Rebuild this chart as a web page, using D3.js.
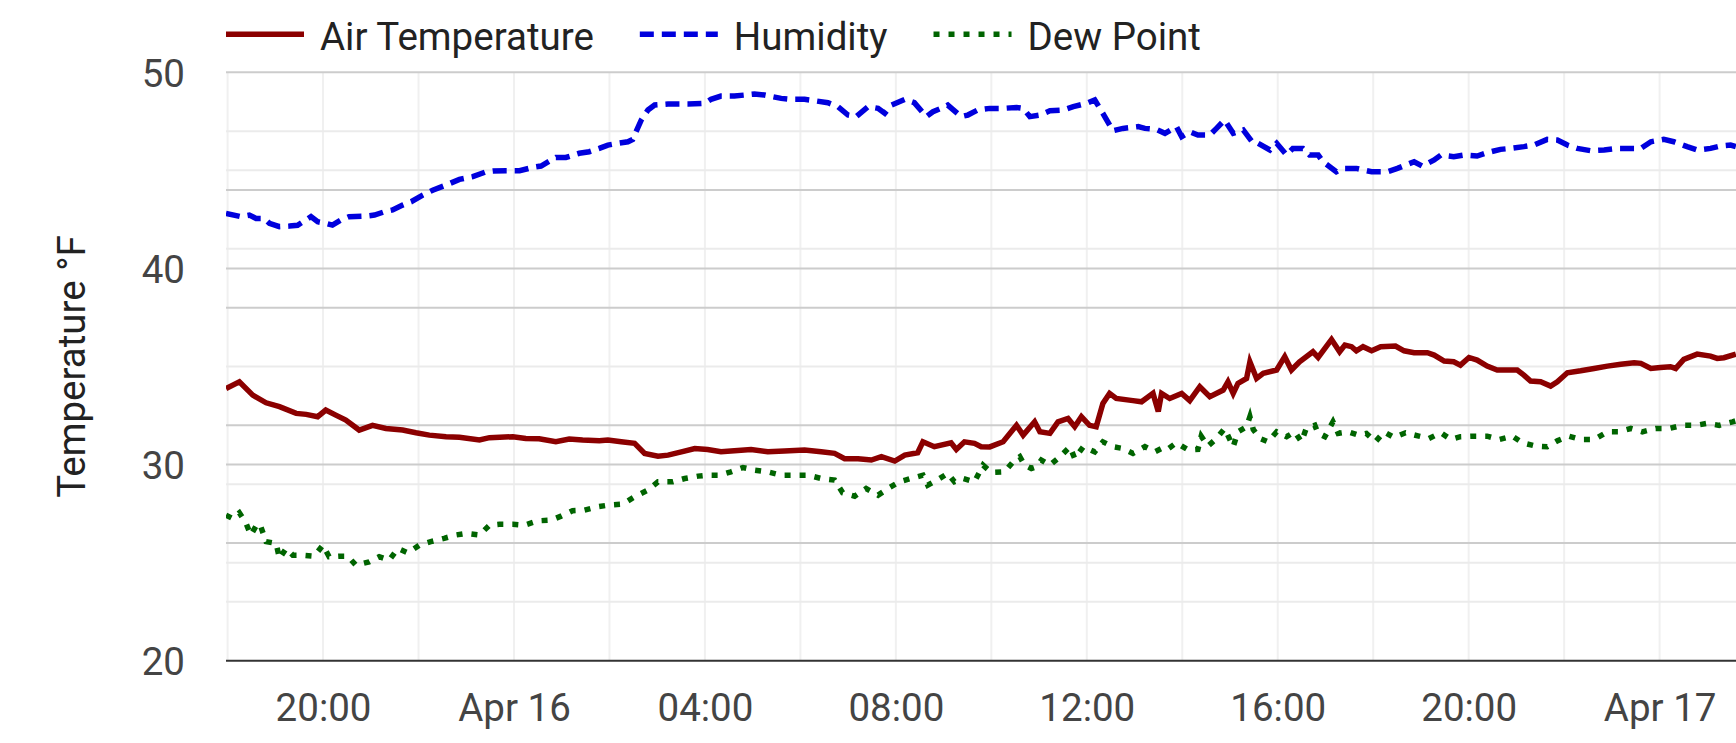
<!DOCTYPE html>
<html>
<head>
<meta charset="utf-8">
<script src="https://cdnjs.cloudflare.com/ajax/libs/d3/7.8.5/d3.min.js"></script>
<style>
  body { margin: 0; background: #fff; }
  text { font-family: Roboto, "Noto Sans", sans-serif; }
</style>
</head>
<body>
<script>
// hours after the first reading (Apr 15, 17:58) and the reading at that time
var tempHours = [0,0.28,0.56,0.84,1.12,1.47,1.68,1.92,2.09,2.30,2.51,2.79,3.07,3.35,3.70,3.98,4.26,4.61,4.89,5.31,5.52,6.01,6.28,6.56,6.91,7.19,7.47,7.82,
  8.0,8.28,8.56,8.77,9.05,9.26,9.54,9.82,10.09,10.37,10.65,11.0,11.35,11.7,12.12,12.47,12.75,12.96,13.24,13.52,13.73,14.01,14.22,14.49,14.6,14.84,15.19,15.3,15.47,15.68,15.82,
  16.0,16.28,16.56,16.7,16.94,17.05,17.26,17.43,17.64,17.78,17.92,18.09,18.23,18.37,18.51,18.65,19.0,19.18,19.42,19.53,19.6,19.77,20.02,20.19,20.4,20.61,20.89,20.99,21.1,21.2,21.38,21.45,21.59,21.73,22.01,22.18,22.32,22.49,22.77,22.88,23.16,23.33,23.44,23.58,23.68,23.82,24.0,
  24.19,24.5,24.68,24.89,25.17,25.31,25.52,25.72,25.86,26.04,26.21,26.42,26.63,27.05,27.19,27.33,27.54,27.75,27.89,28.1,28.38,28.66,28.94,29.22,29.5,29.64,29.85,30.05,30.26,30.37,30.54,30.82,31.1,31.24,31.38,31.63];
var tempValues = [33.88,34.22,33.54,33.15,32.95,32.61,32.56,32.44,32.78,32.52,32.27,31.76,32.0,31.84,31.76,31.62,31.5,31.42,31.39,31.25,31.37,31.42,31.33,31.32,31.16,31.3,31.25,31.21,
  31.25,31.16,31.08,30.57,30.43,30.48,30.65,30.82,30.77,30.65,30.7,30.77,30.65,30.69,30.74,30.65,30.57,30.3,30.3,30.23,30.4,30.18,30.48,30.6,31.16,30.91,31.11,30.77,31.16,31.08,30.91,
  30.9,31.16,32.0,31.5,32.18,31.67,31.59,32.18,32.35,31.93,32.44,32.0,31.93,33.12,33.63,33.37,33.26,33.2,33.63,32.7,33.63,33.37,33.63,33.26,33.97,33.46,33.8,34.22,33.63,34.14,34.39,35.24,34.39,34.65,34.82,35.5,34.82,35.24,35.75,35.46,36.38,35.75,36.09,36.01,35.8,36.01,35.8,
  36.01,36.04,35.8,35.7,35.7,35.58,35.28,35.24,35.07,35.46,35.33,35.02,34.82,34.82,34.56,34.26,34.22,34.0,34.22,34.68,34.78,34.9,35.02,35.11,35.19,35.16,34.9,34.95,34.99,34.9,35.36,35.63,35.53,35.41,35.45,35.63];

var humidHours = [0,0.31,0.49,0.63,0.8,0.91,1.12,1.33,1.5,1.78,1.92,2.09,2.23,2.41,2.58,2.93,3.11,3.32,3.49,3.7,3.88,4.12,4.33,4.61,4.89,5.17,5.45,5.59,5.87,6.15,6.42,6.6,6.91,7.12,7.4,7.61,7.82,8.0,
  8.21,8.42,8.52,8.7,8.84,8.98,9.26,9.68,10.03,10.16,10.37,10.65,11.07,11.28,11.63,11.84,12.12,12.33,12.61,12.82,13.03,13.2,13.45,13.66,13.8,13.94,14.22,14.42,14.67,14.81,14.98,15.12,15.4,15.54,15.75,16.0,
  16.28,16.56,16.7,16.84,17.05,17.26,17.54,17.75,18.03,18.2,18.37,18.58,18.79,19.11,19.25,19.49,19.67,19.91,20.02,20.19,20.36,20.61,20.75,20.92,21.1,21.31,21.52,21.62,21.87,22.01,22.22,22.35,22.56,22.7,22.88,22.98,23.26,23.4,23.68,23.82,24.0,
  24.33,24.54,24.89,25.06,25.31,25.45,25.72,25.93,26.21,26.42,26.7,26.91,27.19,27.4,27.68,27.89,28.1,28.31,28.59,28.87,29.15,29.36,29.64,29.85,30.12,30.33,30.61,30.82,31.1,31.31,31.52,31.63];
var humidValues = [42.81,42.64,42.72,42.55,42.55,42.3,42.13,42.16,42.2,42.64,42.38,42.3,42.21,42.47,42.64,42.67,42.72,42.89,42.98,43.23,43.4,43.74,43.99,44.25,44.54,44.68,44.93,44.97,44.98,44.98,45.15,45.22,45.66,45.66,45.87,45.95,46.12,46.29,
  46.38,46.46,46.58,47.57,48.08,48.33,48.38,48.38,48.42,48.62,48.79,48.79,48.89,48.84,48.67,48.62,48.62,48.55,48.45,48.25,47.82,47.74,48.25,48.16,47.91,48.33,48.62,48.45,47.74,47.99,48.16,48.33,47.74,47.82,48.08,48.16,
  48.16,48.21,48.16,47.74,47.82,48.04,48.08,48.25,48.42,48.59,47.91,47.02,47.14,47.23,47.14,47.09,46.89,47.23,46.72,46.97,46.8,46.8,47.14,47.57,46.89,47.06,46.38,46.38,46.04,46.38,45.78,46.12,46.12,45.78,45.78,45.44,44.93,45.1,45.1,45.02,44.93,
  44.93,45.1,45.44,45.22,45.53,45.78,45.7,45.78,45.73,45.9,46.07,46.12,46.21,46.29,46.58,46.55,46.29,46.12,46.0,46.04,46.12,46.12,46.12,46.46,46.58,46.46,46.21,46.04,46.12,46.24,46.29,46.21];

var dewHours = [0,0.14,0.28,0.42,0.52,0.66,0.73,0.84,1.05,1.12,1.26,1.4,1.61,1.85,2.03,2.16,2.37,2.55,2.72,3.0,3.21,3.42,3.6,3.81,4.05,4.29,4.57,4.82,5.03,5.31,5.52,5.73,6.01,6.25,6.53,6.81,7.02,7.26,7.51,7.79,8.0,
  8.31,8.56,8.84,9.05,9.36,9.61,9.89,10.09,10.34,10.58,10.83,11.07,11.35,11.63,11.91,12.19,12.47,12.75,12.92,13.17,13.41,13.66,13.87,14.11,14.35,14.6,14.7,14.95,15.12,15.26,15.44,15.68,15.86,16.03,
  16.31,16.52,16.63,16.73,16.87,16.98,17.08,17.26,17.47,17.68,17.78,17.96,18.2,18.37,18.58,18.79,19.0,19.25,19.46,19.6,19.7,19.91,20.16,20.36,20.43,20.57,20.75,20.92,21.1,21.2,21.38,21.45,21.52,21.66,21.83,22.01,22.22,22.39,22.53,22.63,22.81,22.88,23.02,23.19,23.3,23.51,23.72,23.89,
  24.08,24.26,24.47,24.71,24.99,25.2,25.45,25.66,25.86,26.18,26.42,26.67,26.95,27.16,27.44,27.68,27.89,28.13,28.38,28.66,28.94,29.18,29.43,29.67,29.95,30.23,30.51,30.79,31.03,31.28,31.56,31.63];
var dewValues = [27.42,27.25,27.54,27.0,26.41,27.0,26.83,26.07,25.98,25.21,25.72,25.38,25.38,25.33,25.89,25.3,25.33,25.33,24.87,25.04,25.3,25.13,25.72,25.5,25.89,26.07,26.24,26.41,26.49,26.41,26.91,26.96,26.96,26.91,27.13,27.17,27.37,27.65,27.68,27.85,27.93,
  27.98,28.36,28.7,29.12,29.12,29.29,29.41,29.46,29.46,29.63,29.85,29.72,29.63,29.46,29.46,29.46,29.29,29.21,28.56,28.39,28.78,28.44,28.78,29.12,29.29,29.46,28.95,29.29,29.55,29.12,29.29,29.12,29.97,29.6,
  29.63,30.23,30.4,29.97,29.8,29.89,30.23,29.97,30.4,30.91,30.31,30.91,30.65,31.16,30.91,30.82,30.57,30.91,30.65,30.82,30.74,31.11,30.74,30.77,31.45,30.94,31.33,31.84,30.91,31.67,31.93,32.44,31.79,31.33,31.16,31.67,31.42,31.67,31.16,31.84,32.0,31.59,31.42,32.18,31.59,31.67,31.5,31.59,
  31.16,31.67,31.38,31.62,31.45,31.33,31.62,31.28,31.42,31.45,31.45,31.28,31.45,31.11,30.94,30.91,31.21,31.45,31.28,31.28,31.67,31.67,31.84,31.67,31.84,31.84,32.0,32.0,32.1,32.0,32.18,32.23];

var seriesNames = ["Air Temperature", "Humidity", "Dew Point"];
var seriesColors = ["#8b0000", "#0000dd", "#006400"];
var seriesDash = [null, "14,8", "6,9"];

var yTicks = [20, 30, 40, 50];
var majorGrid = [26, 30, 32, 38, 40, 44, 50];
var minorGrid = [23, 25, 29, 35, 41, 45, 47];

var screenW = 1736, screenH = 743;
var plotLeft = 226, plotRight = 1736, plotTop = 72.3, plotBottom = 660.7;

var seriesStart = new Date(2021, 3, 15, 17, 58);
var seriesEnd = d3.timeMinute.offset(seriesStart, Math.round(31.63 * 60));
var atHour = function(h){ return new Date(seriesStart.getTime() + h * 3600000); };

var svg = d3.select("body").append("svg")
                .attr("width", screenW)
                .attr("height", screenH);

var x = d3.scaleTime().domain([seriesStart, seriesEnd]).range([plotLeft, plotRight]);
var y = d3.scaleLinear().domain([20, 50]).range([plotBottom, plotTop]);

var defs = svg.append("defs");
defs.append("clipPath").attr("id", "plotClip")
      .append("rect")
      .attr("x", plotLeft).attr("y", 0)
      .attr("width", plotRight - plotLeft).attr("height", screenH);

var gridGroup = svg.append("g").attr("class", "gridGroup");

// vertical gridlines every two hours
gridGroup.selectAll("line.vgrid")
      .data(x.ticks(d3.timeHour.every(2)))
      .enter().append("line")
      .attr("class", "vgrid")
      .attr("x1", function(d){ return x(d); })
      .attr("x2", function(d){ return x(d); })
      .attr("y1", plotTop).attr("y2", plotBottom)
      .style("stroke", "#f0f0f0")
      .style("stroke-width", 2);

gridGroup.selectAll("line.minor")
      .data(minorGrid)
      .enter().append("line")
      .attr("class", "minor")
      .attr("x1", plotLeft).attr("x2", plotRight)
      .attr("y1", function(d){ return y(d); })
      .attr("y2", function(d){ return y(d); })
      .style("stroke", "#ebebeb")
      .style("stroke-width", 2);

gridGroup.selectAll("line.major")
      .data(majorGrid)
      .enter().append("line")
      .attr("class", "major")
      .attr("x1", plotLeft).attr("x2", plotRight)
      .attr("y1", function(d){ return y(d); })
      .attr("y2", function(d){ return y(d); })
      .style("stroke", "#cccccc")
      .style("stroke-width", 2);

// baseline
svg.append("line")
      .attr("x1", plotLeft).attr("x2", plotRight)
      .attr("y1", y(20)).attr("y2", y(20))
      .style("stroke", "#333")
      .style("stroke-width", 2);

// y labels
svg.append("g")
      .attr("transform", "translate(185,0)")
      .call(d3.axisLeft(y).tickValues(yTicks).tickSize(0).tickPadding(0))
      .call(function(g){ g.select(".domain").remove(); })
      .selectAll("text")
      .attr("dy", "0.36em")
      .style("font-family", "Roboto")
      .style("font-size", "38.5px")
      .style("fill", "#444");

// x labels every four hours
var hourFormat = d3.timeFormat("%H:%M"), dayFormat = d3.timeFormat("%b %d");
svg.append("g")
      .attr("transform", "translate(0," + plotBottom + ")")
      .call(d3.axisBottom(x).ticks(d3.timeHour.every(4)).tickSize(0).tickPadding(0)
              .tickFormat(function(d){ return d.getHours() === 0 ? dayFormat(d) : hourFormat(d); }))
      .call(function(g){ g.select(".domain").remove(); })
      .selectAll("text")
      .attr("y", 60).attr("dy", 0)
      .style("font-family", "Roboto")
      .style("font-size", "38.5px")
      .style("fill", "#444");

svg.append("text")
      .attr("transform", "translate(85," + ((plotTop + plotBottom) / 2) + ") rotate(-90)")
      .attr("text-anchor", "middle")
      .style("font-size", "38.5px")
      .style("fill", "#222")
      .text("Temperature °F");

// series
var seriesData = [
  d3.zip(tempHours, tempValues),
  d3.zip(humidHours, humidValues),
  d3.zip(dewHours, dewValues)
];

var line = d3.line()
      .x(function(d){ return x(atHour(d[0])); })
      .y(function(d){ return y(d[1]); });

var lineGroup = svg.append("g").attr("clip-path", "url(#plotClip)");
lineGroup.selectAll("path")
      .data(seriesData)
      .enter().append("path")
      .attr("d", line)
      .style("fill", "none")
      .style("stroke", function(d, i){ return seriesColors[i]; })
      .style("stroke-width", 5.5)
      .style("stroke-linejoin", "miter")
      .style("stroke-dasharray", function(d, i){ return seriesDash[i]; });

// legend
var legendGroup = svg.append("g").attr("class", "legendGroup");
var lx = plotLeft;
seriesNames.forEach(function(name, i){
    legendGroup.append("line")
          .attr("x1", lx).attr("x2", lx + 78)
          .attr("y1", 34.3).attr("y2", 34.3)
          .style("stroke", seriesColors[i])
          .style("stroke-width", 5.5)
          .style("stroke-dasharray", seriesDash[i]);
    var t = legendGroup.append("text")
          .attr("x", lx + 94).attr("y", 50)
          .style("font-size", "38.5px")
          .style("fill", "#222")
          .text(name);
    lx = lx + 94 + t.node().getComputedTextLength() + 46;
});
</script>
</body>
</html>
